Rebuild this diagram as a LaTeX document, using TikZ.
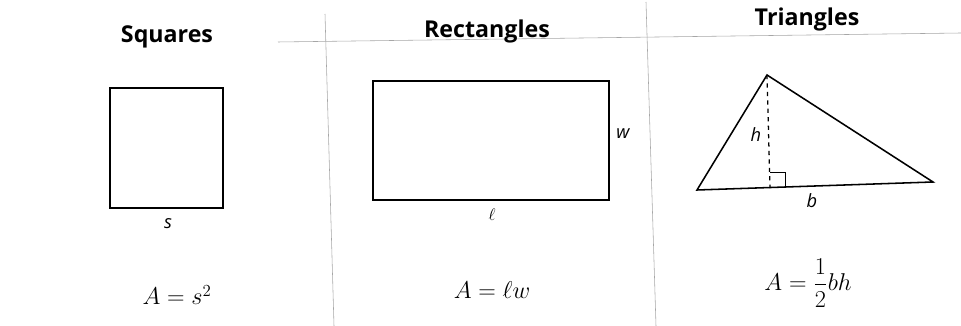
\documentclass[tikz,border=0pt]{standalone}
\usepackage{amsmath}
\usepackage{fontspec}
\setsansfont{Open Sans}
\usepackage{tikz}
\usetikzlibrary{calc}
\newcommand{\areaTitle}[1]{\sffamily\bfseries\fontsize{16.5}{19}\selectfont #1}
\newcommand{\sideLabel}[1]{\sffamily\itshape\fontsize{13}{15}\selectfont #1}

\begin{document}
\begin{tikzpicture}[x=0.025cm,y=-0.025cm,line width=1.1pt,
  rule/.style={line width=0.4pt,gray!70},
  formula/.style={font=\fontsize{18.5}{22}\selectfont}]
\useasboundingbox (0,0) rectangle (961,326);

% Table rules
\draw[rule] (278,42) -- (961,33);
\draw[rule] (325,14) -- (334,326);
\draw[rule] (646,2) -- (656,326);

% Headings
\node (sqhead) at (167,37) {\areaTitle{Squares}};
\node (rechead) at (487,31) {\areaTitle{Rectangles}};
\node (trihead) at (807,19) {\areaTitle{Triangles}};

% Square
\draw (110,88) rectangle (223,208);
\node (sqside) at (168,224) {\sideLabel{s}};

% Rectangle
\draw (373,81) rectangle (609,200);
\node (recw) at (623,134) {\sideLabel{w}};
\node (recl) at (492,215) {\sideLabel{$\ell$}};

% Triangle
\draw (697,190) -- (767,75) -- (933,182) -- cycle;
\draw[dashed,line width=0.9pt] (767,75) -- (770,188);
\draw[line width=0.6pt] (770,172) -- (785,172) -- (785,188);
\node (trih) at (756,135) {\sideLabel{h}};
\node (trib) at (812,201) {\sideLabel{b}};

% Formulas
\node[formula] (sqarea) at (177,295) {$A = s^2$};
\node[formula] (recarea) at (492,290) {$A = \ell w$};
\node[formula] (triarea) at (808,283) {$A = \dfrac{1}{2}bh$};

\end{tikzpicture}
\end{document}
